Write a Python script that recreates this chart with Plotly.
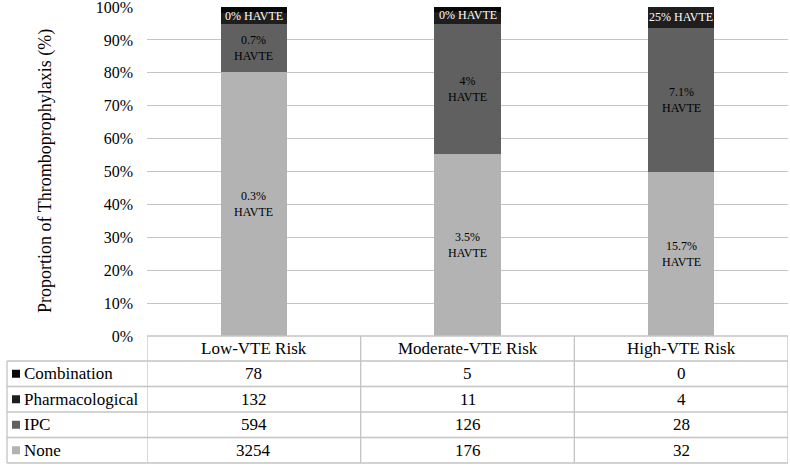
import plotly.graph_objects as go

# ---------------- data ----------------
categories = ["Low-VTE Risk", "Moderate-VTE Risk", "High-VTE Risk"]
none_counts = [3254, 176, 32]
ipc_counts = [594, 126, 28]
pharm_counts = [132, 11, 4]
comb_counts = [78, 5, 0]
havte_none = ["0.3%", "3.5%", "15.7%"]
havte_ipc = ["0.7%", "4%", "7.1%"]
havte_top = ["0%", "0%", "25%"]
y_ticks = list(range(0, 101, 10))
y_ticktext = [f"{v}%" for v in y_ticks]

table_rows = ["Combination", "Pharmacological", "IPC", "None"]
table_counts = [comb_counts, pharm_counts, ipc_counts, none_counts]

# ---------------- style ----------------
colors = {"None": "#b3b3b3", "IPC": "#606060", "Pharmacological": "#1e1e1e", "Combination": "#080808"}
FONT = "Liberation Serif"
W, H = 790, 466
L, R, T, B = 147, 2, 7, 130
GRID = "#c4c4c4"


def xp(px):
    return (px - L) / (W - L - R)


def yp(py):
    return (H - B - py) / (H - B - T)


totals = [a + b + c + d for a, b, c, d in zip(none_counts, ipc_counts, pharm_counts, comb_counts)]


def pct(vals):
    return [v / t * 100 for v, t in zip(vals, totals)]


p_none, p_ipc, p_pharm, p_comb = pct(none_counts), pct(ipc_counts), pct(pharm_counts), pct(comb_counts)

fig = go.Figure()
for name, vals in [("None", p_none), ("IPC", p_ipc), ("Pharmacological", p_pharm), ("Combination", p_comb)]:
    fig.add_trace(go.Bar(x=list(range(len(categories))), y=vals, name=name, width=0.31,
                         marker=dict(color=colors[name], line=dict(width=0)),
                         hoverinfo="skip"))

ann = []
# bar labels
for i in range(len(categories)):
    c_none = p_none[i] / 2
    c_ipc = p_none[i] + p_ipc[i] / 2
    base_top = p_none[i] + p_ipc[i]
    c_top = base_top + (p_pharm[i] + p_comb[i]) / 2
    ann.append(dict(x=i, y=c_none, xref="x", yref="y", text=havte_none[i] + "<br>HAVTE", showarrow=False,
                    xanchor="center", yanchor="middle", font=dict(family=FONT, size=12, color="#000")))
    ann.append(dict(x=i, y=c_ipc, xref="x", yref="y", text=havte_ipc[i] + "<br>HAVTE", showarrow=False,
                    xanchor="center", yanchor="middle", font=dict(family=FONT, size=12, color="#000")))
    ann.append(dict(x=i, y=c_top, xref="x", yref="y", text=havte_top[i] + " HAVTE", showarrow=False,
                    xanchor="center", yanchor="middle", font=dict(family=FONT, size=12, color="#fff")))

# y-axis title
ann.append(dict(x=xp(45), y=yp(171), xref="paper", yref="paper", text="Proportion of Thromboprophylaxis (%)",
                textangle=-90, showarrow=False, xanchor="center", yanchor="middle",
                font=dict(family=FONT, size=18, color="#000")))

# ---------------- table ----------------
row_edges = [336, 361, 386.5, 412, 437.5, 463]
shapes = []
line = dict(color=GRID, width=1.3)
shapes.append(dict(type="line", xref="x", yref="paper", x0=-0.5, x1=2.5, y0=yp(336), y1=yp(336), line=line))
for ry in row_edges[1:]:
    shapes.append(dict(type="line", xref="paper", yref="paper", x0=xp(7), x1=1, y0=yp(ry), y1=yp(ry), line=line))
for xv in [-0.5, 0.5, 1.5, 2.5]:
    shapes.append(dict(type="line", xref="x", yref="paper", x0=xv, x1=xv, y0=yp(336), y1=yp(463), line=line))
shapes.append(dict(type="line", xref="paper", yref="paper", x0=xp(7), x1=xp(7), y0=yp(361), y1=yp(463), line=line))

for i, c in enumerate(categories):
    ann.append(dict(x=i, y=yp((row_edges[0] + row_edges[1]) / 2), xref="x", yref="paper", text=c,
                    showarrow=False, xanchor="center", yanchor="middle",
                    font=dict(family=FONT, size=17, color="#000")))
for r, (name, vals) in enumerate(zip(table_rows, table_counts)):
    yc = yp((row_edges[r + 1] + row_edges[r + 2]) / 2)
    shapes.append(dict(type="rect", xref="paper", yref="paper", x0=xp(12), x1=xp(20),
                       y0=yc - 4 / (H - B - T), y1=yc + 4 / (H - B - T),
                       fillcolor=colors[name], line=dict(width=0)))
    ann.append(dict(x=xp(22), y=yc, xref="paper", yref="paper", text=name, xanchor="left", yanchor="middle",
                    showarrow=False, font=dict(family=FONT, size=17, color="#000")))
    for i, v in enumerate(vals):
        ann.append(dict(x=i, y=yc, xref="x", yref="paper", text=str(v), showarrow=False,
                        xanchor="center", yanchor="middle",
                        font=dict(family=FONT, size=17, color="#000")))

fig.update_layout(
    width=W, height=H, barmode="stack", showlegend=False,
    margin=dict(l=L, r=R, t=T, b=B, pad=0, autoexpand=False),
    paper_bgcolor="#fff", plot_bgcolor="#fff",
    bargap=0,
    xaxis=dict(range=[-0.5, 2.5], showticklabels=False, showgrid=False, zeroline=False, showline=False,
               ticks="", automargin=False),
    yaxis=dict(range=[0, 100], tickmode="array", tickvals=y_ticks, ticktext=y_ticktext, automargin=False,
               showgrid=True, gridcolor=GRID, gridwidth=1.3, ticklabeloverflow="allow",
               zeroline=False, showline=False, ticks="", ticklabelstandoff=13,
               tickfont=dict(family=FONT, size=16, color="#000")),
    annotations=ann, shapes=shapes,
)

fig.write_html("out.html")
